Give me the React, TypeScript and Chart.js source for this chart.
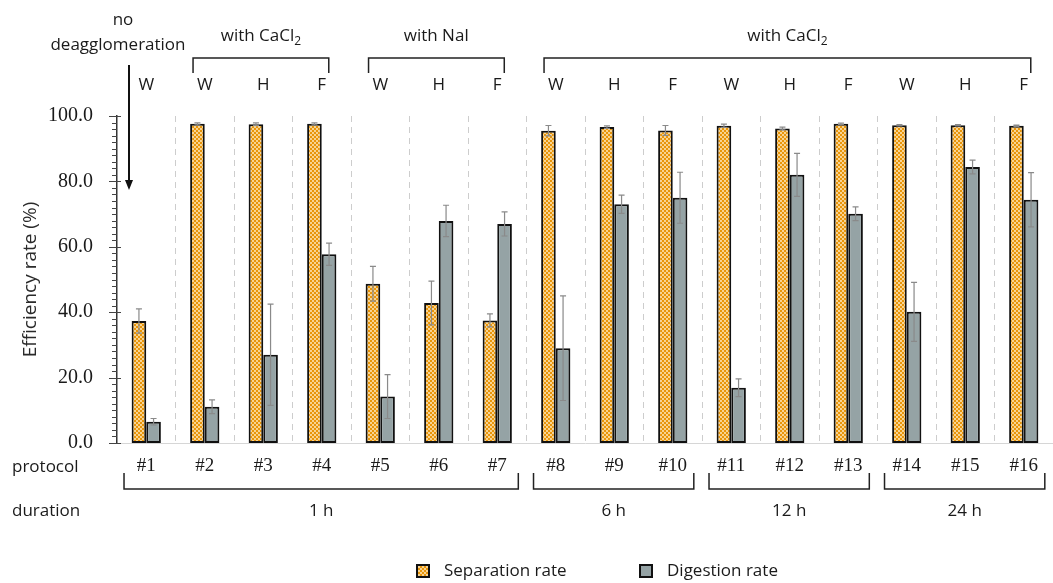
import React, { useEffect, useRef } from 'react';
import { Chart, registerables } from 'chart.js';

Chart.register(...registerables);

const protocols = ['#1', '#2', '#3', '#4', '#5', '#6', '#7', '#8', '#9', '#10', '#11', '#12', '#13', '#14', '#15', '#16'];
const treatments = ['W', 'W', 'H', 'F', 'W', 'H', 'F', 'W', 'H', 'F', 'W', 'H', 'F', 'W', 'H', 'F'];
const separationRate = [37.3, 97.6, 97.5, 97.6, 48.7, 42.8, 37.5, 95.5, 96.6, 95.6, 97.0, 96.2, 97.6, 97.2, 97.2, 97.0];
const separationErr = [3.7, 0.3, 0.4, 0.3, 5.3, 6.7, 2.0, 1.6, 0.4, 1.5, 0.5, 0.4, 0.2, 0.2, 0.2, 0.2];
const digestionRate = [6.5, 11.1, 27.0, 57.7, 14.2, 67.9, 67.0, 29.0, 73.0, 75.0, 16.9, 82.0, 70.1, 40.1, 84.4, 74.4];
const digestionErr = [1.0, 2.1, 15.5, 3.4, 6.7, 4.8, 3.7, 16.0, 2.8, 7.8, 2.7, 6.6, 2.1, 9.0, 2.1, 8.3];
const seriesNames = ['Separation rate', 'Digestion rate'];
const topGroupLabels = ['with CaCl', 'with NaI', 'with CaCl'];
const topGroupSubs = ['2', '', '2'];
const topGroupFrom = [1, 4, 7];
const topGroupTo = [3, 6, 15];
const durationLabels = ['1 h', '6 h', '12 h', '24 h'];
const durationFrom = [0, 7, 10, 13];
const durationTo = [6, 9, 12, 15];
const noDeaggLines = ['no', 'deagglomeration'];

const SANS = "'Open Sans', 'Noto Sans', sans-serif";
const SERIF = "'Liberation Serif', 'DejaVu Serif', serif";
const INK = '#1a1a1a';
const FS = 17;

export default function App() {
  const ref = useRef<HTMLCanvasElement>(null);

  useEffect(() => {
    const canvas = ref.current!;
    const pc = document.createElement('canvas');
    pc.width = 4;
    pc.height = 4;
    const p = pc.getContext('2d')!;
    p.fillStyle = '#E8950A';
    p.fillRect(0, 0, 4, 4);
    p.fillStyle = '#FFF2D2';
    p.beginPath();
    p.arc(1, 1, 0.9, 0, Math.PI * 2);
    p.fill();
    p.beginPath();
    p.arc(3, 3, 0.9, 0, Math.PI * 2);
    p.fill();
    const pattern = canvas.getContext('2d')!.createPattern(pc, 'repeat')!;
    const grayFill = '#95A3A5';

    const drawSub = (ctx: CanvasRenderingContext2D, main: string, sub: string, cx: number, cy: number) => {
      ctx.font = `${FS}px ${SANS}`;
      const w1 = ctx.measureText(main).width;
      ctx.font = `12px ${SANS}`;
      const w2 = sub ? ctx.measureText(sub).width : 0;
      const x0 = cx - (w1 + w2) / 2;
      ctx.textAlign = 'left';
      ctx.textBaseline = 'middle';
      ctx.font = `${FS}px ${SANS}`;
      ctx.fillText(main, x0, cy);
      if (sub) {
        ctx.font = `12px ${SANS}`;
        ctx.fillText(sub, x0 + w1, cy + 6);
      }
    };

    const annot = {
      id: 'annot',
      afterDatasetsDraw(chart: any) {
        const ctx = chart.ctx as CanvasRenderingContext2D;
        const ys = chart.scales.y;
        const vals = [separationRate, digestionRate];
        const errs = [separationErr, digestionErr];
        ctx.save();
        ctx.strokeStyle = '#8a8a8a';
        ctx.lineWidth = 1.2;
        [0, 1].forEach((di) => {
          const meta = chart.getDatasetMeta(di);
          meta.data.forEach((bar: any, i: number) => {
            const v = vals[di][i];
            const e = errs[di][i];
            const yt = ys.getPixelForValue(v + e);
            const yb = ys.getPixelForValue(v - e);
            ctx.beginPath();
            ctx.moveTo(bar.x, yt);
            ctx.lineTo(bar.x, yb);
            ctx.moveTo(bar.x - 3, yt);
            ctx.lineTo(bar.x + 3, yt);
            ctx.moveTo(bar.x - 3, yb);
            ctx.lineTo(bar.x + 3, yb);
            ctx.stroke();
          });
        });
        ctx.restore();
      },
      afterDraw(chart: any) {
        const ctx = chart.ctx as CanvasRenderingContext2D;
        const ys = chart.scales.y;
        const xs = chart.scales.x;
        const area = chart.chartArea;
        const w = xs.getPixelForValue(1) - xs.getPixelForValue(0);
        ctx.save();

        // y axis tick marks (major + minor)
        ctx.strokeStyle = '#444';
        ctx.lineWidth = 1;
        for (let v = 0; v <= 100; v += 2) {
          const y = Math.round(ys.getPixelForValue(v)) + 0.5;
          ctx.beginPath();
          if (v % 20 === 0) {
            ctx.moveTo(area.left - 8, y);
            ctx.lineTo(area.left + 4, y);
          } else {
            ctx.moveTo(area.left - 5, y);
            ctx.lineTo(area.left, y);
          }
          ctx.stroke();
        }

        // no deagglomeration + arrow
        ctx.fillStyle = INK;
        ctx.font = `${FS}px ${SANS}`;
        ctx.textAlign = 'center';
        ctx.textBaseline = 'middle';
        ctx.fillText(noDeaggLines[0], 123, 20);
        ctx.fillText(noDeaggLines[1], 118, 45);
        const ax = area.left + 12;
        ctx.strokeStyle = '#111';
        ctx.lineWidth = 2;
        ctx.beginPath();
        ctx.moveTo(ax, 65);
        ctx.lineTo(ax, 182);
        ctx.stroke();
        ctx.fillStyle = '#111';
        ctx.beginPath();
        ctx.moveTo(ax - 4, 180);
        ctx.lineTo(ax + 4, 180);
        ctx.lineTo(ax, 190);
        ctx.closePath();
        ctx.fill();

        // top brackets and group labels
        ctx.strokeStyle = '#222';
        ctx.lineWidth = 1.5;
        ctx.fillStyle = INK;
        topGroupLabels.forEach((lab, g) => {
          const x1 = xs.getPixelForValue(topGroupFrom[g]) - 0.2 * w;
          const x2 = xs.getPixelForValue(topGroupTo[g]) + 0.12 * w;
          ctx.beginPath();
          ctx.moveTo(x1, 73);
          ctx.lineTo(x1, 58);
          ctx.lineTo(x2, 58);
          ctx.lineTo(x2, 73);
          ctx.stroke();
          drawSub(ctx, lab, topGroupSubs[g], (x1 + x2) / 2, 36);
        });

        // treatment letters
        ctx.font = `${FS}px ${SANS}`;
        ctx.textAlign = 'center';
        ctx.textBaseline = 'middle';
        treatments.forEach((t, i) => {
          ctx.fillText(t, xs.getPixelForValue(i), 85);
        });

        // bottom labels
        ctx.textAlign = 'left';
        ctx.fillText('protocol', 12, 467);
        ctx.fillText('duration', 12, 511);

        // duration brackets
        ctx.textAlign = 'center';
        durationLabels.forEach((lab, g) => {
          const x1 = xs.getPixelForValue(durationFrom[g]) - 0.38 * w;
          const x2 = xs.getPixelForValue(durationTo[g]) + 0.36 * w;
          ctx.beginPath();
          ctx.moveTo(x1, 473);
          ctx.lineTo(x1, 489);
          ctx.lineTo(x2, 489);
          ctx.lineTo(x2, 473);
          ctx.stroke();
          ctx.fillText(lab, (x1 + x2) / 2, 511);
        });

        // legend
        const fills = [pattern, grayFill];
        const lx = [416, 639];
        ctx.textAlign = 'left';
        ctx.textBaseline = 'middle';
        seriesNames.forEach((name, i) => {
          ctx.fillStyle = fills[i] as any;
          ctx.fillRect(lx[i], 564, 14, 14);
          ctx.strokeStyle = '#111';
          ctx.lineWidth = 2;
          ctx.strokeRect(lx[i] + 1, 565, 12, 12);
          ctx.fillStyle = INK;
          ctx.font = `${FS}px ${SANS}`;
          ctx.fillText(name, lx[i] + 28, 571);
        });
        ctx.restore();
      },
    };

    const chart = new Chart(canvas, {
      type: 'bar',
      data: {
        labels: protocols,
        datasets: [
          {
            label: seriesNames[0],
            data: separationRate,
            backgroundColor: pattern as any,
            borderColor: '#111',
            borderWidth: 2,
            borderSkipped: false,
          },
          {
            label: seriesNames[1],
            data: digestionRate,
            backgroundColor: grayFill,
            borderColor: '#111',
            borderWidth: 2,
            borderSkipped: false,
          },
        ],
      },
      options: {
        animation: false,
        responsive: false,
        devicePixelRatio: 1,
        layout: { padding: { top: 116, left: 0, right: 0, bottom: 100 } },
        datasets: { bar: { categoryPercentage: 0.5, barPercentage: 1.0 } },
        plugins: { legend: { display: false }, tooltip: { enabled: false } },
        scales: {
          x: {
            grid: {
              display: true,
              offset: true,
              drawTicks: false,
              color: (c: any) => (c.index === 0 ? 'rgba(0,0,0,0)' : '#cdcdcd'),
              lineWidth: 1,
            },
            border: { display: true, color: '#d6d6d6', dash: [6, 5] },
            ticks: {
              color: INK,
              font: { family: SERIF, size: 19 },
              padding: 12,
              maxRotation: 0,
              autoSkip: false,
            },
            afterFit: (s: any) => {
              s.height = 40;
            },
          },
          y: {
            min: 0,
            max: 100,
            grid: { display: false },
            border: { display: true, color: '#333', width: 1.5 },
            ticks: {
              stepSize: 20,
              color: INK,
              font: { family: SERIF, size: 20 },
              padding: 16,
              callback: (v: any) => Number(v).toFixed(1),
            },
            title: {
              display: true,
              text: 'Efficiency rate (%)',
              color: '#2a2a2a',
              font: { family: SANS, size: 19 },
              padding: { top: 19, bottom: 0 },
            },
            afterFit: (s: any) => {
              s.width = 117;
            },
          },
        },
      },
      plugins: [annot],
    });
    return () => chart.destroy();
  }, []);

  return (
    <div style={{ position: 'fixed', left: 0, top: 0, width: 1053, height: 583, background: '#fff' }}>
      <canvas ref={ref} width={1053} height={583} style={{ display: 'block' }} />
    </div>
  );
}
